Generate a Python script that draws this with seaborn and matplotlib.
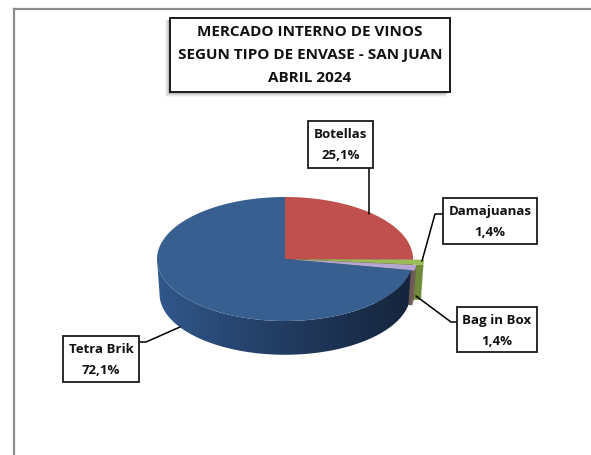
import numpy as np
import matplotlib
matplotlib.use("Agg")
import matplotlib.pyplot as plt
from matplotlib.patches import Rectangle, Polygon
from matplotlib.colors import to_rgb
import seaborn as sns

# ---------------- data ----------------
categories = ["Botellas", "Damajuanas", "Bag in Box", "Tetra Brik"]
values = [25.1, 1.4, 1.4, 72.1]
pct_labels = ["25,1%", "1,4%", "1,4%", "72,1%"]
title_lines = ["MERCADO INTERNO DE VINOS", "SEGUN TIPO DE ENVASE - SAN JUAN", "ABRIL 2024"]

# ---------------- style ----------------
sns.set_theme(style="white")
plt.rcParams["font.family"] = ["Open Sans", "DejaVu Sans"]

top_colors = sns.color_palette(["#C0504D", "#9BBB59", "#B5A6D3", "#375F8F"])
wall_colors = ["#8B3432", "#76923C", "#6E5858", None]
cut_colors = ["#7A2E2C", "#6F8A3A", "#6E5858", "#1E3352"]
blue_wall_left = np.array(to_rgb("#31588C"))
blue_wall_right = np.array(to_rgb("#15243C"))
explode = [0.0, 0.085, 0.03, 0.0]

W, H = 591, 456
fig = plt.figure(figsize=(W / 100, H / 100), dpi=100)
ax = fig.add_axes([0, 0, 1, 1])
ax.axis("off")

# chart border: only the left and top edges fall inside the picture
ax.plot([13.5, 13.5], [9.5, H + 10], color="#8C8C8C", lw=1.6, zorder=1,
        solid_capstyle="projecting")
ax.plot([13.5, W + 10], [9.5, 9.5], color="#8C8C8C", lw=1.6, zorder=1,
        solid_capstyle="projecting")

# ---------------- 3D pie geometry ----------------
cx, cy, rx, ry, depth = 285, 260, 128, 62, 35
vals = np.array(values, dtype=float)
fr = vals / vals.sum()
starts = 90 - 360 * np.concatenate([[0], np.cumsum(fr)[:-1]])
ends = starts - 360 * fr


def pt(t, off=(0, 0), dz=0):
    r = np.radians(t)
    shrink = 1 - 0.02 * (dz / depth)
    return (cx + off[0] + rx * shrink * np.cos(r), cy + off[1] - ry * shrink * np.sin(r) + dz)


def offset(i):
    mid = np.radians((starts[i] + ends[i]) / 2)
    return (explode[i] * rx * np.cos(mid), -explode[i] * ry * np.sin(mid))


def wall_poly(i, lo, hi):
    off = offset(i)
    ts = np.linspace(hi, lo, 200)
    return [pt(t, off) for t in ts] + [pt(t, off, depth) for t in ts[::-1]]


def draw_wall(i, z):
    a0, a1 = starts[i], ends[i]
    lo, hi = max(a1, -180), min(a0, 0)
    if hi <= lo:
        return
    verts = wall_poly(i, lo, hi)
    if wall_colors[i] is not None:
        ax.add_patch(Polygon(verts, closed=True, facecolor=wall_colors[i],
                             edgecolor="none", zorder=z))
    else:
        poly = Polygon(verts, closed=True, facecolor="none", edgecolor="none", zorder=z)
        ax.add_patch(poly)
        xs = np.array([v[0] for v in verts])
        ys = np.array([v[1] for v in verts])
        f = np.linspace(0, 1, 300) ** 0.9
        grad = blue_wall_left[None, :] + (blue_wall_right - blue_wall_left)[None, :] * f[:, None]
        img = np.repeat(grad[None, :, :], 2, axis=0)
        im = ax.imshow(img, extent=(xs.min(), xs.max(), ys.max(), ys.min()),
                       aspect="auto", interpolation="bilinear", zorder=z)
        im.set_clip_path(poly)


def draw_cut(i, z):
    off = offset(i)
    a = ends[i]
    c = (cx + off[0], cy + off[1])
    p = pt(a, off)
    pb = pt(a, off, depth)
    poly = [c, p, pb, (c[0], c[1] + depth)]
    ax.add_patch(Polygon(poly, closed=True, facecolor=cut_colors[i], edgecolor="none", zorder=z))


def draw_top(i, z):
    off = offset(i)
    ts = np.linspace(starts[i], ends[i], 200)
    poly = [(cx + off[0], cy + off[1])] + [pt(t, off) for t in ts]
    ax.add_patch(Polygon(poly, closed=True, facecolor=top_colors[i], edgecolor="none", zorder=z))


z = 2
for i in [0, 1, 2, 3]:
    if i != 3:
        draw_cut(i, z)
    draw_wall(i, z + 1)
    draw_top(i, z + 2)
    z += 3

ax.set_xlim(0, W)
ax.set_ylim(H, 0)

# ---------------- title ----------------
tx0, ty0, tx1, ty1 = 170, 19, 450, 93
for k, a in enumerate([0.10, 0.08, 0.06, 0.04]):
    ax.add_patch(Rectangle((tx0 - 2 - k, ty0 + 2), tx1 - tx0, ty1 - ty0 + k,
                           facecolor="black", alpha=a, edgecolor="none", zorder=20))
ax.add_patch(Rectangle((tx0, ty0), tx1 - tx0, ty1 - ty0, facecolor="white",
                       edgecolor="#1a1a1a", lw=1.4, zorder=21))
for k, line in enumerate(title_lines):
    ax.text((tx0 + tx1) / 2, 31.5 + 23.5 * k, line, ha="center", va="center",
            fontsize=11, fontweight="bold", color="#111111", zorder=22)

# ---------------- labels ----------------
boxes = [(308, 122, 373, 169), (443, 199, 537, 245), (457, 308, 537, 353), (63, 337, 139, 383)]
leaders = [
    [(369, 169), (369, 215)],
    [(443, 215), (435, 215), (422, 262)],
    [(457, 323), (451, 323), (416, 297)],
    [(139, 343), (146, 343), (180, 328)],
]
for i, (bx0, by0, bx1, by1) in enumerate(boxes):
    ax.plot(*zip(*leaders[i]), color="black", lw=1.1, zorder=25)
    ax.add_patch(Rectangle((bx0, by0), bx1 - bx0, by1 - by0, facecolor="white",
                           edgecolor="#1a1a1a", lw=1.3, zorder=26))
    xm = (bx0 + bx1) / 2
    ax.text(xm, by0 + 12.5, categories[i], ha="center", va="center", fontsize=9.5,
            fontweight="bold", color="#111111", zorder=27)
    ax.text(xm, by0 + 33.5, pct_labels[i], ha="center", va="center", fontsize=9.5,
            fontweight="bold", color="#111111", zorder=27)

fig.savefig("out.png", dpi=100, facecolor="white")
